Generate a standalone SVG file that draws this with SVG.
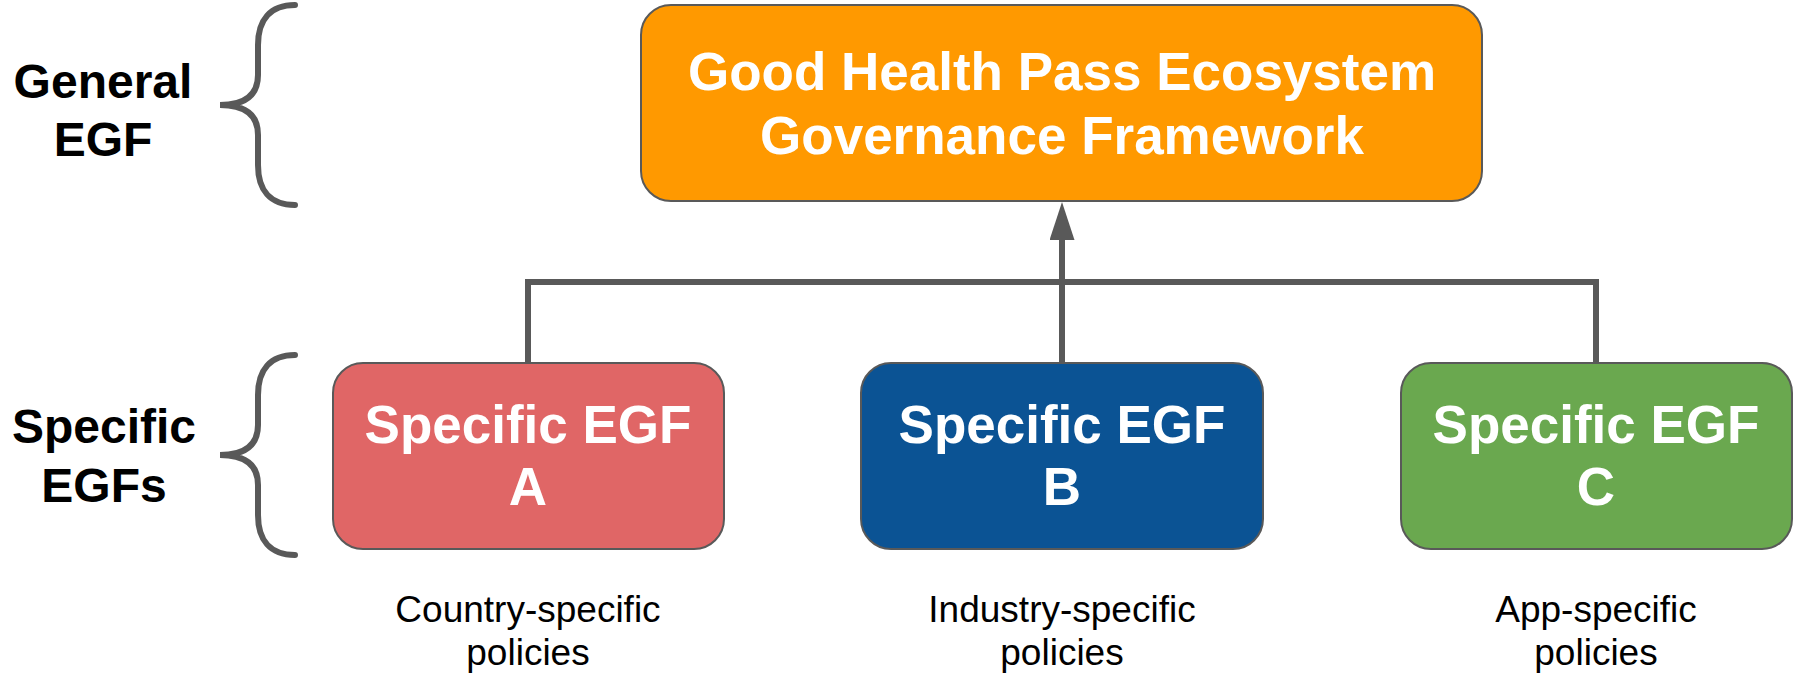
<svg xmlns="http://www.w3.org/2000/svg" width="1801" height="674" viewBox="0 0 1801 674">
<style>
.box{stroke:#595959;stroke-width:2}
.wt{fill:#ffffff;font-family:"Liberation Sans",Arial,sans-serif;font-weight:bold;font-size:53px;text-anchor:middle}
.lt{fill:#000000;font-family:"Liberation Sans",Arial,sans-serif;font-weight:bold;font-size:48px;text-anchor:middle}
.pt{fill:#000000;font-family:"Liberation Sans",Arial,sans-serif;font-size:37px;text-anchor:middle}
.ln{fill:none;stroke:#595959;stroke-width:6}
.br{fill:none;stroke:#595959;stroke-width:6;stroke-linecap:round}
</style>
<defs>
<marker id="ah" markerUnits="userSpaceOnUse" markerWidth="38" markerHeight="25" refX="10" refY="12.5" orient="auto" viewBox="0 0 38 25">
<path d="M0,0 L38,12.5 L0,25 Z" fill="#595959"/>
</marker>
</defs>
<rect width="1801" height="674" fill="#ffffff"/>
<g id="connectors">
<path class="ln" d="M528,362 L528,282 L1596,282 L1596,362"/>
<path class="ln" d="M1062,362 L1062,230" marker-end="url(#ah)"/>
</g>
<g id="label-general">
<path class="br" d="M295,5 C270,5 258,20 258,45 L258,75 C258,95 245,105 220,105 C245,105 258,115 258,135 L258,165 C258,190 270,205 295,205"/>
<text class="lt" x="103" y="98">General</text>
<text class="lt" x="103" y="156">EGF</text>
</g>
<g id="label-specific">
<path class="br" d="M295,355 C270,355 258,370 258,395 L258,425 C258,445 245,455 220,455 C245,455 258,465 258,485 L258,515 C258,540 270,555 295,555"/>
<text class="lt" x="104" y="443">Specific</text>
<text class="lt" x="104" y="502">EGFs</text>
</g>
<g id="ghp">
<rect class="box" x="641" y="5" width="841" height="196" rx="30" fill="#ff9900"/>
<text class="wt" x="1062" y="90">Good Health Pass Ecosystem</text>
<text class="wt" x="1062" y="154">Governance Framework</text>
</g>
<g id="egf-a">
<rect class="box" x="333" y="363" width="391" height="186" rx="30" fill="#e06666"/>
<text class="wt" x="528" y="443">Specific EGF</text>
<text class="wt" x="528" y="505">A</text>
<text class="pt" x="528" y="622">Country-specific</text>
<text class="pt" x="528" y="665">policies</text>
</g>
<g id="egf-b">
<rect class="box" x="861" y="363" width="402" height="186" rx="30" fill="#0b5394"/>
<text class="wt" x="1062" y="443">Specific EGF</text>
<text class="wt" x="1062" y="505">B</text>
<text class="pt" x="1062" y="622">Industry-specific</text>
<text class="pt" x="1062" y="665">policies</text>
</g>
<g id="egf-c">
<rect class="box" x="1401" y="363" width="391" height="186" rx="30" fill="#6aa84f"/>
<text class="wt" x="1596" y="443">Specific EGF</text>
<text class="wt" x="1596" y="505">C</text>
<text class="pt" x="1596" y="622">App-specific</text>
<text class="pt" x="1596" y="665">policies</text>
</g>
</svg>
